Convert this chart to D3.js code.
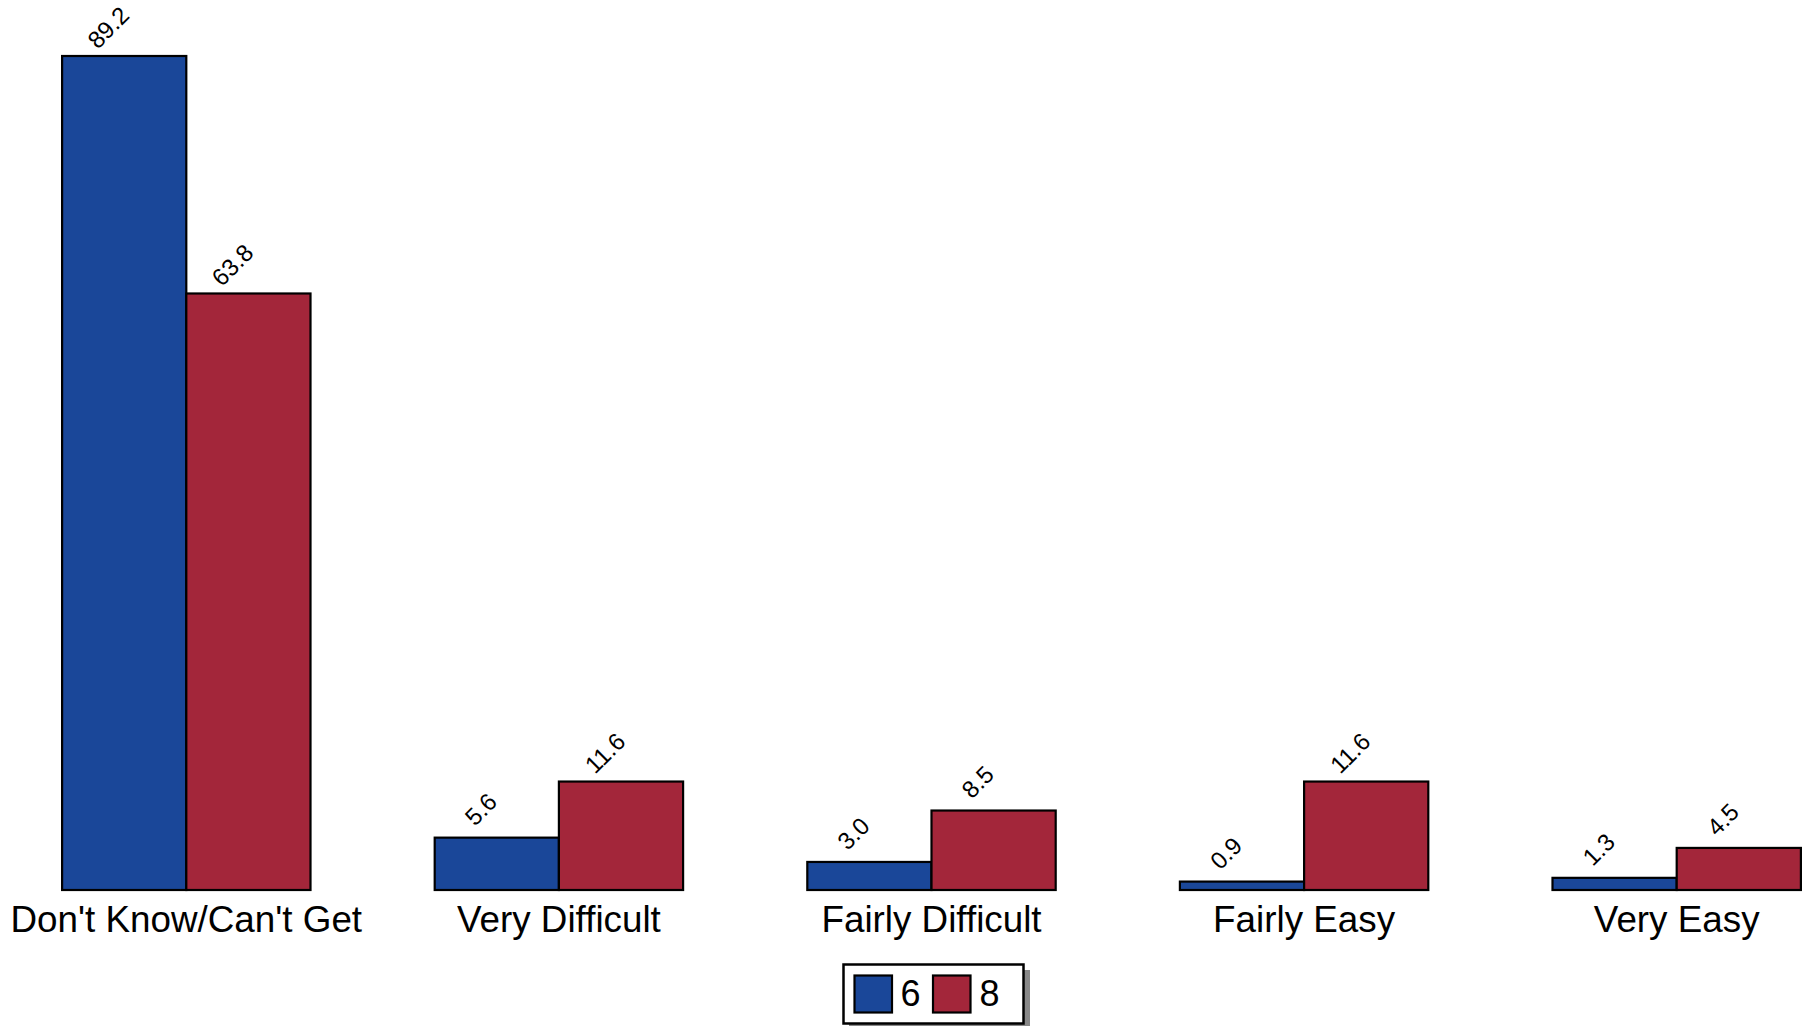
<!DOCTYPE html>
<html><head><meta charset="utf-8">
<script src="https://cdn.jsdelivr.net/npm/d3@7"></script>
<style>
html,body{margin:0;padding:0;background:#fff;}
svg{display:block;font-family:"Liberation Sans",Arial,sans-serif;}
</style></head>
<body>
<svg id="chart" width="1806" height="1026"></svg>
<script>
const categories = ["Don't Know/Can't Get","Very Difficult","Fairly Difficult","Fairly Easy","Very Easy"];
const seriesNames = ["6","8"];
const values6 = [89.2, 5.6, 3.0, 0.9, 1.3];
const values8 = [63.8, 11.6, 8.5, 11.6, 4.5];
const colors = ["#1A4799","#A3263A"];

const svg = d3.select("#chart");
const baseY = 890, topY = 56;

const x0 = d3.scaleBand().domain(categories).range([0, 1863]).paddingInner(1/3).paddingOuter(1/6);
const x1 = d3.scaleBand().domain(seriesNames).range([0, x0.bandwidth()]);
const y = d3.scaleLinear().domain([0, 89.2]).range([baseY, topY]);

const data = categories.map((c,i)=>({cat:c, vals:[{s:"6",v:values6[i]},{s:"8",v:values8[i]}]}));

const g = svg.append("g");
const groups = g.selectAll("g.grp").data(data).join("g")
  .attr("transform", d=>`translate(${x0(d.cat)},0)`);

groups.selectAll("rect").data(d=>d.vals).join("rect")
  .attr("x", d=>x1(d.s))
  .attr("y", d=>y(d.v))
  .attr("width", x1.bandwidth())
  .attr("height", d=>baseY - y(d.v))
  .attr("fill", (d,i)=>colors[i])
  .attr("stroke", "#000")
  .attr("stroke-width", 2.2);

groups.selectAll("text.val").data(d=>d.vals).join("text")
  .attr("class","val")
  .attr("transform", d=>`translate(${x1(d.s)+x1.bandwidth()/2-16},${y(d.v)-28.5}) rotate(-45)`)
  .attr("text-anchor","middle")
  .attr("dy","0.35em")
  .attr("font-size", 24)
  .attr("fill","#000")
  .text(d=>d.v.toFixed(1));

const axis = d3.axisBottom(x0).tickSize(0).tickPadding(16);
const ax = svg.append("g").attr("transform",`translate(0,${baseY})`).call(axis);
ax.select(".domain").remove();
ax.selectAll("text").attr("font-size",36.8).attr("fill","#000").attr("font-family","'Liberation Sans',Arial,sans-serif");

// Legend
const lg = svg.append("g");
lg.append("rect").attr("x",849).attr("y",970).attr("width",181).attr("height",60).attr("fill","#888");
lg.append("rect").attr("x",843.5).attr("y",964.5).attr("width",180).attr("height",59).attr("fill","#fff").attr("stroke","#000").attr("stroke-width",2.5);
const legX = [854.5, 933];
const legTX = [900.5, 979.5];
seriesNames.forEach((s,i)=>{
  lg.append("rect").attr("x",legX[i]).attr("y",975.5).attr("width",37.5).attr("height",37).attr("fill",colors[i]).attr("stroke","#000").attr("stroke-width",2.2);
  lg.append("text").attr("x",legTX[i]).attr("y",1005.5).attr("font-size",36).attr("fill","#000").text(s);
});
</script>
</body></html>
